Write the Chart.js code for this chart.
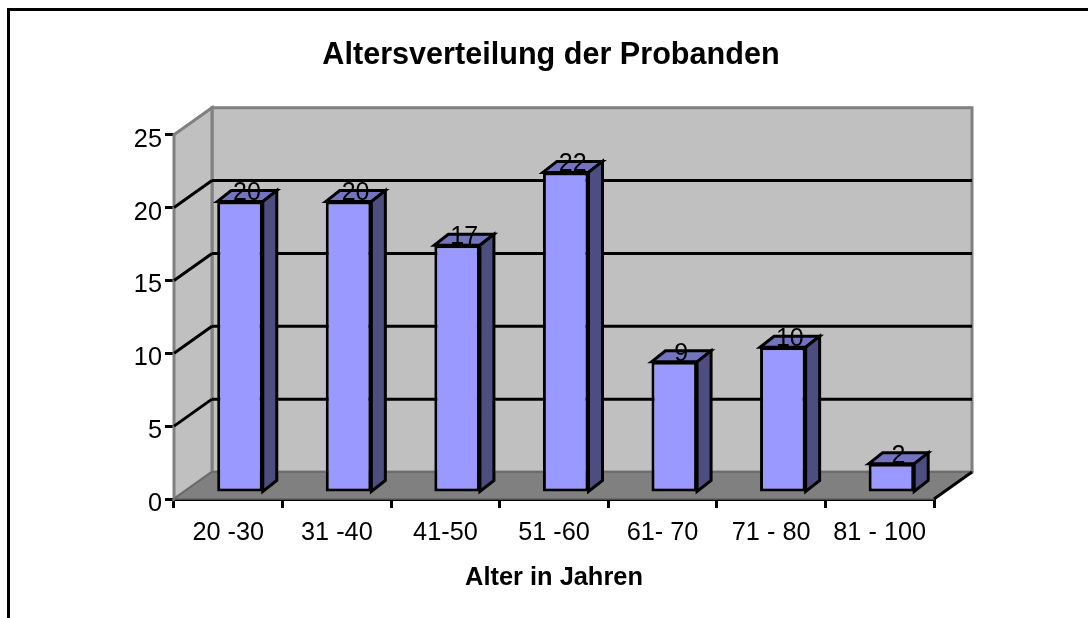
<!DOCTYPE html>
<html>
<head>
<meta charset="utf-8">
<title>Altersverteilung der Probanden</title>
<script src="https://cdn.jsdelivr.net/npm/chart.js@4"></script>
<style>
  html, body { margin: 0; padding: 0; background: #fff; }
  canvas { display: block; }
</style>
</head>
<body>
<canvas id="chart" width="1088" height="618"></canvas>
<script>
const categories = ['20 -30', '31 -40', '41-50', '51 -60', '61- 70', '71 - 80', '81 - 100'];
const probanden = [20, 20, 17, 22, 9, 10, 2];
const yMax = 25;
const yStep = 5;

const FONT = '"Liberation Sans", Arial, sans-serif';

// depth of the fake 3d box, in px
const WALL_DX = 38;
const WALL_DY = -27;
const BAR_DX = 11.7;
const BAR_DY = -6;
const DEPTH_DX = 14;
const DEPTH_DY = -11;

function poly(ctx, pts, fill, stroke, lw) {
  ctx.beginPath();
  pts.forEach((p, i) => (i ? ctx.lineTo(p[0], p[1]) : ctx.moveTo(p[0], p[1])));
  ctx.closePath();
  if (fill) {
    ctx.fillStyle = fill;
    ctx.fill();
  }
  if (stroke) {
    ctx.strokeStyle = stroke;
    ctx.lineWidth = lw;
    ctx.lineJoin = 'miter';
    ctx.stroke();
  }
}

function line(ctx, x1, y1, x2, y2, color, lw) {
  ctx.beginPath();
  ctx.moveTo(x1, y1);
  ctx.lineTo(x2, y2);
  ctx.strokeStyle = color;
  ctx.lineWidth = lw;
  ctx.stroke();
}

const box3d = {
  id: 'box3d',
  afterLayout(chart) {
    // title is centred on the whole frame, not on the padded layout box
    chart.titleBlock.left += 84;
    chart.titleBlock.right += 84;
  },
  beforeDraw(chart) {
    // outer frame of the pasted chart, cut off at right and bottom
    const ctx = chart.ctx;
    ctx.save();
    ctx.beginPath();
    ctx.moveTo(8.5, 618);
    ctx.lineTo(8.5, 9.5);
    ctx.lineTo(1088, 9.5);
    ctx.strokeStyle = '#000';
    ctx.lineWidth = 3;
    ctx.stroke();
    ctx.restore();
  },
  beforeDatasetsDraw(chart) {
    const { ctx, chartArea: a, scales: { y } } = chart;
    const bx = a.left + WALL_DX;
    const rx = a.right + WALL_DX;
    const topB = a.top + WALL_DY;
    const botB = a.bottom + WALL_DY;

    ctx.save();
    // back wall, side wall, floor
    poly(ctx, [[bx, topB], [rx, topB], [rx, botB], [bx, botB]], '#C0C0C0', '#808080', 3);
    poly(ctx, [[a.left, a.top], [bx, topB], [bx, botB], [a.left, a.bottom]], '#C0C0C0', '#808080', 3);
    poly(ctx, [[a.left, a.bottom], [a.right, a.bottom], [rx, botB], [bx, botB]], '#808080', '#666666', 1.5);
    line(ctx, a.right, a.bottom, rx, botB, '#000', 3);

    // gridlines run along the side wall and the back wall
    y.ticks.forEach(t => {
      if (t.value === 0 || t.value === yMax) return;
      const py = y.getPixelForValue(t.value);
      line(ctx, a.left, py, bx, py + WALL_DY, '#000', 3);
      line(ctx, bx, py + WALL_DY, rx, py + WALL_DY, '#000', 3);
    });

    // top and right faces of the bars
    chart.getDatasetMeta(0).data.forEach(bar => {
      const l = bar.x - bar.width / 2 + BAR_DX;
      const r = bar.x + bar.width / 2 + BAR_DX;
      const t = bar.y + BAR_DY;
      const b = bar.base + BAR_DY;
      poly(ctx, [[l, t], [l + DEPTH_DX, t + DEPTH_DY], [r + DEPTH_DX, t + DEPTH_DY], [r, t]], '#7373BF', '#000', 3);
      poly(ctx, [[r, t], [r + DEPTH_DX, t + DEPTH_DY], [r + DEPTH_DX, b + DEPTH_DY], [r, b]], '#4D4D80', '#000', 3);
    });
    ctx.restore();
  },
  beforeDatasetDraw(chart) {
    chart.ctx.save();
    chart.ctx.translate(BAR_DX, BAR_DY);
  },
  afterDatasetDraw(chart) {
    chart.ctx.restore();
  },
  afterDatasetsDraw(chart) {
    // value labels sit on the top face of each bar
    const ctx = chart.ctx;
    ctx.save();
    ctx.font = '25px ' + FONT;
    ctx.fillStyle = '#000';
    ctx.textAlign = 'center';
    ctx.textBaseline = 'middle';
    chart.getDatasetMeta(0).data.forEach((bar, i) => {
      ctx.fillText(String(probanden[i]), bar.x + BAR_DX + 7, bar.y + BAR_DY - 8);
    });
    ctx.restore();
  }
};

new Chart(document.getElementById('chart'), {
  type: 'bar',
  data: {
    labels: categories,
    datasets: [{
      data: probanden,
      backgroundColor: '#9999FF',
      borderColor: '#000',
      borderWidth: 3,
      borderSkipped: false,
      barPercentage: 0.42,
      categoryPercentage: 1
    }]
  },
  plugins: [box3d],
  options: {
    responsive: false,
    animation: false,
    layout: { padding: { left: 0, right: 154, top: 0, bottom: 0 } },
    plugins: {
      legend: { display: false },
      tooltip: { enabled: false },
      title: {
        display: true,
        text: 'Altersverteilung der Probanden',
        color: '#000',
        font: { family: FONT, size: 30.6, weight: 'bold', lineHeight: 1.2 },
        padding: { top: 37, bottom: 61 }
      }
    },
    scales: {
      x: {
        offset: true,
        afterFit(scale) { scale.height = 119; },
        grid: {
          drawOnChartArea: false,
          offset: true,
          color: '#000',
          lineWidth: 3,
          tickLength: 9
        },
        border: { color: '#000', width: 3 },
        ticks: {
          color: '#000',
          font: { family: FONT, size: 25.3 },
          padding: 10,
          maxRotation: 0,
          autoSkip: false
        },
        title: {
          display: true,
          text: 'Alter in Jahren',
          color: '#000',
          font: { family: FONT, size: 25.4, weight: 'bold' },
          padding: { top: 0, bottom: 25 }
        }
      },
      y: {
        min: 0,
        max: yMax,
        afterFit(scale) { scale.width = 174; },
        grid: {
          drawOnChartArea: false,
          color: '#000',
          lineWidth: 3,
          tickLength: 9
        },
        border: { color: '#000', width: 3 },
        ticks: {
          stepSize: yStep,
          color: '#000',
          // empty first line pushes the number a few px below its tick
          callback: v => ['', String(v)],
          font: { family: FONT, size: 25.3, lineHeight: 0.4 },
          padding: 3
        }
      }
    }
  }
});
</script>
</body>
</html>
